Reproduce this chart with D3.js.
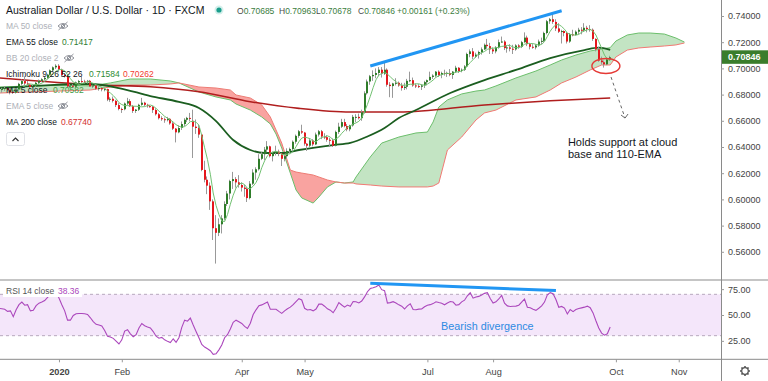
<!DOCTYPE html>
<html><head><meta charset="utf-8">
<script src="https://cdn.jsdelivr.net/npm/d3@7"></script>
<style>body{margin:0;background:#fff}svg{display:block;font-family:"Liberation Sans",Arial,sans-serif}</style>
</head><body><svg id="c" width="768" height="381"></svg>
<script>
// ---------------- DATA ----------------
const firstBarDate = "2019-12-02";
const holidays = ["2019-12-25", "2020-01-01"];
// daily AUD/USD, in pips (price * 10000)
const opens = [6765,6838,6842,6850,6835,6820,6815,6838,6882,6903,6885,6876,6858,6865,6890,6905,6917,6928,6952,6985,
7008,7020,6990,6950,6940,6862,6868,6860,6893,6903,6900,6895,6905,6862,6870,6845,6850,6840,6842,6762,
6768,6752,6720,6690,6688,6732,6750,6712,6675,6685,6722,6738,6722,6712,6708,6682,6650,6620,6612,6605,
6615,6580,6540,6512,6545,6575,6608,6622,6600,6555,6545,6495,6225,6150,6105,5985,5780,5745,5810,5855,
5965,6045,6140,6155,6130,6110,6090,6080,6010,6120,6205,6230,6310,6345,6380,6405,6330,6355,6365,6350,
6310,6330,6370,6385,6440,6485,6520,6510,6425,6410,6450,6420,6495,6520,6480,6475,6455,6450,6410,6515,
6555,6590,6560,6535,6565,6630,6630,6620,6665,6810,6900,6940,6950,6965,6990,6960,6990,6875,6865,6885,
6890,6870,6850,6860,6905,6910,6870,6865,6860,6870,6895,6910,6935,6945,6975,6950,6965,6960,6965,6950,
6975,7005,6980,6990,7015,7110,7130,7090,7105,7125,7145,7180,7170,7145,7130,7160,7200,7205,7155,7160,
7150,7145,7175,7165,7200,7235,7185,7165,7160,7175,7205,7210,7270,7360,7375,7355,7305,7280,7285,7270,
7205,7260,7255,7280,7295,7290,7310,7300,7295,7225,7145,7060,7047,7031,7068.5];
const highs = [6845,6852,6865,6858,6845,6830,6845,6890,6915,6939,6905,6885,6875,6900,6915,6925,6935,6958,6992,7015,
7032,7032,6998,6962,6950,6880,6880,6900,6912,6935,6913,6912,6912,6875,6875,6865,6860,6850,6845,6780,
6785,6760,6735,6700,6740,6775,6765,6720,6690,6730,6775,6745,6730,6720,6712,6695,6660,6635,6625,6630,
6620,6590,6545,6565,6595,6620,6630,6660,6685,6610,6570,6500,6295,6175,6130,6000,5880,5855,5880,5985,
6065,6150,6210,6170,6185,6130,6110,6090,6140,6230,6245,6345,6360,6400,6445,6410,6365,6410,6380,6355,
6345,6390,6395,6450,6495,6530,6570,6515,6430,6465,6460,6510,6530,6530,6505,6490,6470,6465,6525,6585,
6615,6615,6575,6570,6645,6650,6655,6685,6825,6915,6950,6985,7000,7010,7010,7045,7000,6895,6890,6925,
6900,6890,6890,6920,6975,6930,6885,6880,6880,6905,6915,6975,6955,6980,6985,6975,6990,6975,6995,6980,
7020,7010,7000,7025,7120,7145,7155,7120,7135,7160,7190,7225,7195,7160,7170,7220,7243,7215,7175,7185,
7180,7185,7185,7210,7275,7250,7195,7185,7185,7220,7235,7280,7370,7385,7414,7375,7345,7295,7290,7280,
7270,7295,7290,7310,7315,7345,7325,7330,7305,7230,7165,7090,7060,7085,7096.3];
const lows = [6760,6815,6828,6826,6802,6805,6808,6830,6870,6870,6865,6842,6848,6855,6880,6895,6908,6920,6945,6975,
6995,6975,6935,6930,6855,6850,6850,6852,6885,6890,6885,6885,6860,6850,6835,6830,6825,6825,6750,6745,
6740,6705,6680,6660,6680,6720,6705,6660,6660,6675,6715,6710,6700,6700,6660,6640,6610,6600,6585,6595,
6570,6530,6435,6505,6530,6560,6590,6595,6316,6500,6470,6215,6130,6040,5920,5690,5510,5720,5740,5840,
5950,6000,6080,6090,6090,6060,6020,5980,6000,6110,6150,6220,6300,6300,6360,6320,6290,6335,6330,6255,
6290,6310,6350,6370,6425,6470,6500,6410,6370,6400,6405,6415,6480,6460,6460,6440,6400,6400,6405,6500,
6545,6550,6520,6520,6555,6590,6610,6600,6655,6800,6875,6905,6925,6940,6930,6950,6860,6780,6775,6870,
6860,6830,6835,6840,6895,6860,6850,6850,6835,6850,6870,6905,6920,6935,6935,6925,6945,6935,6940,6920,
6965,6965,6970,6980,7010,7085,7070,7080,7075,7105,7140,7150,7110,7110,7115,7150,7195,7140,7120,7130,
7110,7135,7150,7155,7195,7170,7145,7150,7145,7165,7185,7200,7260,7340,7340,7285,7270,7190,7245,7190,
7195,7245,7250,7260,7260,7280,7275,7280,7210,7130,7050,7030,7006,7025,7067.8];
const closes = [6838,6842,6850,6835,6820,6815,6838,6882,6903,6885,6876,6858,6865,6890,6905,6917,6928,6952,6985,7008,
7020,6990,6950,6940,6862,6868,6860,6893,6903,6900,6895,6905,6862,6870,6845,6850,6840,6842,6762,6768,
6752,6720,6690,6688,6732,6750,6712,6675,6685,6722,6738,6722,6712,6708,6682,6650,6620,6612,6605,6615,
6580,6540,6512,6545,6575,6608,6622,6618,6555,6545,6495,6225,6150,6105,5985,5780,5745,5810,5855,5965,
6045,6140,6155,6130,6110,6090,6080,6010,6120,6205,6230,6310,6345,6380,6405,6330,6355,6365,6350,6310,
6330,6370,6385,6440,6485,6520,6510,6425,6410,6450,6420,6495,6520,6480,6475,6455,6450,6410,6515,6555,
6590,6560,6535,6565,6630,6630,6620,6665,6810,6900,6940,6950,6965,6990,6960,6990,6875,6865,6885,6890,
6870,6850,6860,6905,6910,6870,6865,6860,6870,6895,6910,6935,6945,6975,6950,6965,6960,6965,6950,6975,
7005,6980,6990,7015,7110,7130,7090,7105,7125,7145,7180,7170,7145,7130,7160,7200,7205,7155,7160,7150,
7145,7175,7165,7200,7235,7185,7165,7160,7175,7205,7210,7270,7360,7375,7355,7305,7280,7285,7270,7205,
7260,7255,7280,7295,7290,7310,7300,7295,7225,7145,7060,7047,7031,7068.5,7084.6];
// RSI(14) per bar
const rsi = [56.4,56,55.5,53.5,54,48.4,55,60,62.5,59.5,60,54,54.5,59,61.5,62.5,64,67,69.5,72.5,
71.5,66.5,60,54,45,45,49.5,51.2,51.5,51.4,51.2,50.5,47.3,43.6,41,40.3,39.5,35,29.5,28.8,
27.4,24.8,22,26,34.5,35.8,31.8,29,31,37.5,41.8,39.7,38.5,37.5,34,29.5,27.5,28.3,26,24.5,
23.3,27,23.5,28,38,45,44,47,40.3,34,28,21.5,19,17.3,15.5,12,12.5,16.3,21,28,
31,36.5,43,45,43.5,41.8,39,37,42,50.5,55,59,59.8,61.2,62.5,55.5,55.5,55.5,53.5,51.6,
54,56,57.6,60,63,65.8,64.5,56.5,54.8,55.3,54,55.8,60.5,60.5,58.5,56,54.7,52.2,56.5,62,
59.7,57.6,59.6,58.5,63,62.8,61.7,63.5,67.5,72.5,75.6,76.3,77.4,79,74.5,73.5,61.5,62,62.9,61.6,
59.8,58.5,55.8,58.8,60.8,55.3,55.1,55.7,55.8,58,59.5,60,61,62.8,62,61.3,59.9,61.6,63,62.5,
59.5,60,62.7,64.3,68.6,71.5,66.3,67.4,68,69.4,70.9,71.6,66,61.5,62.7,65.5,69,61.5,58.8,58.2,
58.5,58.6,59.5,62.5,65.5,57.5,57,55.5,54.5,56.5,58.8,62.5,69.5,71.6,70.5,65,57.5,58.3,56.7,51,
55.3,53.3,55.3,56.2,56.9,57.6,58.6,57,52,44.5,37.5,32.5,30.5,31.8,38.36];
// indicator lines: [bar, value]
const ema55 = [[0,0.6850],[18,0.6873],[32,0.6881],[42,0.6850],[53,0.6789],[63,0.6744],[70,0.6698],[76,0.6598],[82,0.6453],[88,0.6377],[93,0.6354],[99,0.6354],[105,0.6377],[117,0.6415],[123,0.6431],[129,0.6480],[135,0.6545],[140,0.6621],[146,0.6682],[158,0.6812],[170,0.6911],[181,0.6988],[193,0.7079],[205,0.7140],[210,0.7158],[214,0.71417]];
const ma200 = [[0,0.6927],[35,0.6873],[53,0.6860],[70,0.6822],[88,0.6746],[105,0.6695],[123,0.6667],[140,0.6667],[170,0.6721],[193,0.6753],[214,0.6774]];
// Ichimoku cloud: [bar, leading span A, leading span B]
const cloud = [[0,.6858,.6812],[11,.6866,.6820],[21,.6873,.6827],[32,.6866,.6835],[39,.6889,.6858],[46,.6919,.6873],[53,.6919,.6873],[60,.6904,.6881],[63,.6889,.6889],[70,.6820,.6858],[76,.6782,.6850],[81,.6759,.6835],[83,.6728,.6797],[88,.6682,.6774],[92,.6629,.6721],[95,.6576,.6629],[97,.6499,.6530],[99,.6392,.6430],[102,.6201,.6224],[104,.6072,.6209],[106,.6011,.6201],[110,.5972,.6186],[112,.6018,.6171],[115,.6095,.6148],[118,.6133,.6133],[121,.6125,.6125],[124,.6133,.6125],[125,.6171,.6118],[130,.6324,.6110],[134,.6430,.6102],[140,.6476,.6095],[146,.6507,.6095],[150,.6514,.6095],[152,.6591,.6102],[154,.6705,.6125],[157,.6759,.6377],[162,.6805,.6476],[167,.6827,.6606],[170,.6835,.6660],[174,.6866,.6682],[181,.6927,.6759],[188,.6980,.6782],[193,.7026,.6835],[197,.7064,.6889],[202,.7102,.6934],[207,.7133,.6988],[211,.7148,.7026],[214,.7158,.7026],[216,.7209,.7087],[220,.7255,.7140],[224,.7270,.7156],[228,.7270,.7163],[233,.7262,.7171],[237,.7232,.7179],[240,.7201,.7194]];
// trend lines drawn on the chart: [bar, value]
const priceTrend = [[130,0.7018],[197,0.7440]];
const rsiTrend = [[130,80.7],[195,73.6]];
const priceTicks = [0.56,0.58,0.60,0.62,0.64,0.66,0.68,0.70,0.72,0.74];
const rsiTicks = [25,50,75];
const monthTicks = [["2020","2020-01-02"],["Feb","2020-02-03"],["Apr","2020-04-01"],["May","2020-05-01"],["Jul","2020-07-01"],["Aug","2020-08-03"],["Oct","2020-10-01"],["Nov","2020-11-02"]];
const lastPrice = 0.70846;

// ---------------- CHART ----------------
const svg = d3.select("#c");
const AX = 721, MAIN_B = 280, RSI_B = 359.3;
const fmtD = d3.timeFormat("%Y-%m-%d");
const cal = [];
for (let d = d3.timeParse("%Y-%m-%d")(firstBarDate); cal.length < 260; d = d3.timeDay.offset(d, 1)) {
  const s = fmtD(d), wd = d.getDay();
  if (wd !== 0 && wd !== 6 && !holidays.includes(s)) cal.push(s);
}
const barOf = s => cal.indexOf(s);
const x = d3.scaleLinear().domain([0, 252.8]).range([-1, AX]);
const y = d3.scaleLinear().domain([0.53847, 0.75221]).range([MAIN_B, 0]);
const yr = d3.scaleLinear().domain([7.16, 83.85]).range([RSI_B, MAIN_B]);

const defs = svg.append("defs");
defs.append("clipPath").attr("id","cm").append("rect").attr("x",0).attr("y",0).attr("width",AX).attr("height",MAIN_B);
defs.append("clipPath").attr("id","cr").append("rect").attr("x",0).attr("y",MAIN_B).attr("width",AX).attr("height",RSI_B-MAIN_B);
const cl = cloud.map(d => ({i:d[0], a:d[1], b:d[2]}));
defs.append("clipPath").attr("id","above").append("path")
  .attr("d", d3.area().x(d=>x(d.i)).y0(0).y1(d=>y(d.b))(cl));
defs.append("clipPath").attr("id","below").append("path")
  .attr("d", d3.area().x(d=>x(d.i)).y0(MAIN_B).y1(d=>y(d.b))(cl));

const main = svg.append("g").attr("clip-path","url(#cm)");
// cloud
const between = d3.area().x(d=>x(d.i)).y0(d=>y(d.b)).y1(d=>y(d.a));
main.append("g").attr("clip-path","url(#above)").append("path").attr("d",between(cl)).attr("fill","#c3e4c3");
main.append("g").attr("clip-path","url(#below)").append("path").attr("d",between(cl)).attr("fill","#f9a3a0");
main.append("path").attr("d",d3.line().x(d=>x(d.i)).y(d=>y(d.a))(cl)).attr("fill","none").attr("stroke","#6cbf6c").attr("stroke-width",1);
main.append("path").attr("d",d3.line().x(d=>x(d.i)).y(d=>y(d.b))(cl)).attr("fill","none").attr("stroke","#ef7b74").attr("stroke-width",1);

// MA200 and EMA55
const sline = d3.line().x(d=>x(d[0])).y(d=>y(d[1])).curve(d3.curveMonotoneX);
main.append("path").attr("d",sline(ma200)).attr("fill","none").attr("stroke","#b01e1e").attr("stroke-width",1.6);
main.append("path").attr("d",sline(ema55)).attr("fill","none").attr("stroke","#1b5e20").attr("stroke-width",1.8);

// candles
const bars = closes.map((c,i)=>({i, o:opens[i]/1e4, h:highs[i]/1e4, l:lows[i]/1e4, c:c/1e4}));
const cg = main.append("g");
cg.selectAll("line").data(bars).join("line")
  .attr("x1",d=>Math.round(x(d.i))-0.5).attr("x2",d=>Math.round(x(d.i))-0.5)
  .attr("y1",d=>y(d.h)).attr("y2",d=>y(d.l)).attr("stroke","#999").attr("stroke-width",1);
cg.selectAll("rect").data(bars).join("rect")
  .attr("x",d=>Math.round(x(d.i))-1).attr("width",2)
  .attr("y",d=>y(Math.max(d.o,d.c))).attr("height",d=>Math.max(1,Math.abs(y(d.o)-y(d.c))))
  .attr("fill",d=>d.c>=d.o?"#2f7d2a":"#e5171d");

// MA5 of closes
const ma5 = bars.filter(d=>d.i>=4).map(d=>[d.i, d3.mean(closes.slice(d.i-4,d.i+1))/1e4]);
main.append("path").attr("d",d3.line().x(d=>x(d[0])).y(d=>y(d[1]))(ma5)).attr("fill","none").attr("stroke","#72c172").attr("stroke-width",1);

// blue trend line
main.append("line").attr("x1",x(priceTrend[0][0])).attr("y1",y(priceTrend[0][1])).attr("x2",x(priceTrend[1][0])).attr("y2",y(priceTrend[1][1]))
  .attr("stroke","#2196f3").attr("stroke-width",3);

// annotation
main.append("ellipse").attr("cx",x(212.5)).attr("cy",y(0.7018)).attr("rx",14).attr("ry",7.5)
  .attr("fill","none").attr("stroke","#e53935").attr("stroke-width",1.4);
main.append("line").attr("x1",x(214.3)).attr("y1",y(0.6934)).attr("x2",x(219.2)).attr("y2",y(0.6621))
  .attr("stroke","#666").attr("stroke-width",1).attr("stroke-dasharray","3,3");
const ax2 = x(219.2), ay2 = y(0.6621);
main.append("path").attr("d",`M${ax2-4},${ay2-3}L${ax2},${ay2}L${ax2+3},${ay2-4}`).attr("fill","none").attr("stroke","#666").attr("stroke-width",1);
const note = svg.append("text").attr("font-size","11px").attr("fill","#131722");
note.append("tspan").attr("x",x(199.2)).attr("y",y(0.6408)).text("Holds support at cloud");
note.append("tspan").attr("x",x(199.2)).attr("y",y(0.6317)).text("base and 110-EMA");

// ---------------- RSI pane ----------------
const rp = svg.append("g").attr("clip-path","url(#cr)");
rp.append("rect").attr("x",0).attr("width",AX).attr("y",yr(70)).attr("height",yr(30)-yr(70)).attr("fill","#f4e6fa");
[70,30].forEach(v=>rp.append("line").attr("x1",0).attr("x2",AX).attr("y1",yr(v)).attr("y2",yr(v))
  .attr("stroke","#b7a8bd").attr("stroke-dasharray","3,3").attr("stroke-width",1));
rp.append("path").attr("d",d3.line().x((d,i)=>x(i)).y(d=>yr(d))(rsi)).attr("fill","none").attr("stroke","#ab47bc").attr("stroke-width",1.1);
rp.append("line").attr("x1",x(rsiTrend[0][0])).attr("y1",yr(rsiTrend[0][1])).attr("x2",x(rsiTrend[1][0])).attr("y2",yr(rsiTrend[1][1]))
  .attr("stroke","#2196f3").attr("stroke-width",3);
svg.append("text").attr("x",x(154.8)).attr("y",yr(35.5)).attr("font-size","10.8px").attr("fill","#2d8ae2").text("Bearish divergence");
svg.append("rect").attr("x",3).attr("y",285).attr("width",79).attr("height",12).attr("fill","#fff");
const rl = svg.append("text").attr("x",6).attr("y",294).attr("font-size","8.5px");
rl.append("tspan").attr("fill","#555").text("RSI 14 close ");
rl.append("tspan").attr("fill","#ab47bc").attr("x",58).text("38.36");

// ---------------- frames & axes ----------------
svg.append("line").attr("x1",0).attr("x2",768).attr("y1",MAIN_B).attr("y2",MAIN_B).attr("stroke","#b2b2b2").attr("stroke-width",1.5);
svg.append("line").attr("x1",0).attr("x2",768).attr("y1",RSI_B).attr("y2",RSI_B).attr("stroke","#8a8a8a").attr("stroke-width",1);
svg.append("line").attr("x1",AX+0.5).attr("x2",AX+0.5).attr("y1",0).attr("y2",381).attr("stroke","#8a8a8a").attr("stroke-width",1);

const pa = svg.append("g").attr("transform",`translate(${AX},0)`)
  .call(d3.axisRight(y).tickValues(priceTicks).tickFormat(d3.format(".5f")).tickSize(3).tickPadding(4));
pa.select(".domain").remove();
pa.selectAll("line").attr("stroke","#999");
pa.selectAll("text").attr("font-size","9px").attr("fill","#444").attr("font-family","Liberation Sans, Arial, sans-serif");
const ra = svg.append("g").attr("transform",`translate(${AX},0)`)
  .call(d3.axisRight(yr).tickValues(rsiTicks).tickFormat(d3.format(".2f")).tickSize(3).tickPadding(4));
ra.select(".domain").remove();
ra.selectAll("line").attr("stroke","#999");
ra.selectAll("text").attr("font-size","9px").attr("fill","#444").attr("font-family","Liberation Sans, Arial, sans-serif");
// current price label
svg.append("rect").attr("x",AX+1).attr("y",y(lastPrice)-7).attr("width",768-AX-1).attr("height",13.5).attr("fill","#3a7d2c");
svg.append("text").attr("x",AX+7).attr("y",y(lastPrice)).attr("dy","0.35em").attr("font-size","9px").attr("font-weight","bold").attr("fill","#fff").text(d3.format(".5f")(lastPrice));

const ta = svg.append("g").attr("transform",`translate(0,${RSI_B})`)
  .call(d3.axisBottom(x).tickValues(monthTicks.map(t=>barOf(t[1]))).tickFormat((d,i)=>monthTicks[i][0]).tickSize(3).tickPadding(6));
ta.select(".domain").remove();
ta.selectAll("line").attr("stroke","#999");
ta.selectAll("text").attr("font-size","9.2px").attr("fill","#444").attr("font-family","Liberation Sans, Arial, sans-serif")
  .attr("font-weight",(d,i)=>i===0?"bold":"normal");

// gear icon
const gear = svg.append("g").attr("transform","translate(745,371)");
d3.range(8).forEach(k=>{const a=k*Math.PI/4; gear.append("line").attr("x1",3*Math.cos(a)).attr("y1",3*Math.sin(a)).attr("x2",5*Math.cos(a)).attr("y2",5*Math.sin(a)).attr("stroke","#555").attr("stroke-width",1.6);});
gear.append("circle").attr("r",3.3).attr("fill","#fff").attr("stroke","#555").attr("stroke-width",1.2);

// ---------------- legend ----------------
const dark="#131722", light="#aeb1b8";
svg.append("text").attr("x",6).attr("y",14).attr("font-size","10.5px").attr("fill",dark).text("Australian Dollar / U.S. Dollar \u00b7 1D \u00b7 FXCM");
svg.append("circle").attr("cx",219).attr("cy",10).attr("r",4.5).attr("fill","#d4efeb");
svg.append("circle").attr("cx",219).attr("cy",10).attr("r",2.6).attr("fill","#1a9e8c");
const ohlc = [["O","0.70685",237],["H","0.70963",279],["L","0.70678",316],["C","0.70846",358]];
ohlc.forEach(o=>{const t=svg.append("text").attr("x",o[2]).attr("y",14).attr("font-size","8.5px");
  t.append("tspan").attr("fill","#4a4a4a").text(o[0]); t.append("tspan").attr("fill","#3b7d3e").text(o[1]);});
svg.append("text").attr("x",397).attr("y",14).attr("font-size","8.5px").attr("fill","#3b7d3e").text("+0.00161 (+0.23%)");

function eye(cx, cy){
  const g = svg.append("g").attr("transform",`translate(${cx},${cy})`).attr("stroke","#8f929a").attr("fill","none").attr("stroke-width",1);
  g.append("path").attr("d","M-5,0Q0,-5 5,0Q0,5 -5,0Z");
  g.append("circle").attr("r",1.7);
  g.append("line").attr("x1",-4.5).attr("y1",4).attr("x2",4.5).attr("y2",-4);
}
const rows = [
  {y:29, label:"MA 50 close", col:light, eye:63},
  {y:45, label:"EMA 55 close", col:dark, vals:[["0.71417","#2e7d32",62]]},
  {y:61, label:"BB 20 close 2", col:light, eye:69},
  {y:77, label:"Ichimoku 9 26 52 26", col:dark, vals:[["0.71584","#2e8b32",89],["0.70262","#f23b2f",123]]},
  {y:93, label:"MA 5 close", col:dark, vals:[["0.70582","#43a047",53]]},
  {y:109, label:"EMA 5 close", col:light, eye:63},
  {y:125, label:"MA 200 close", col:dark, vals:[["0.67740","#d32f2f",61]]}
];
rows.forEach(r=>{
  svg.append("text").attr("x",6).attr("y",r.y).attr("font-size","8.5px").attr("fill",r.col).text(r.label);
  if (r.vals) r.vals.forEach(v=>svg.append("text").attr("x",v[2]).attr("y",r.y).attr("font-size","8.5px").attr("fill",v[1]).text(v[0]));
  if (r.eye) eye(r.eye, r.y-3);
});
svg.append("rect").attr("x",6.5).attr("y",132.5).attr("width",18).attr("height",13).attr("rx",2).attr("fill","#fff").attr("stroke","#dfe1e6");
svg.append("path").attr("d","M12.5,141L15.5,138L18.5,141").attr("fill","none").attr("stroke","#333").attr("stroke-width",1.1);
</script></body></html>
